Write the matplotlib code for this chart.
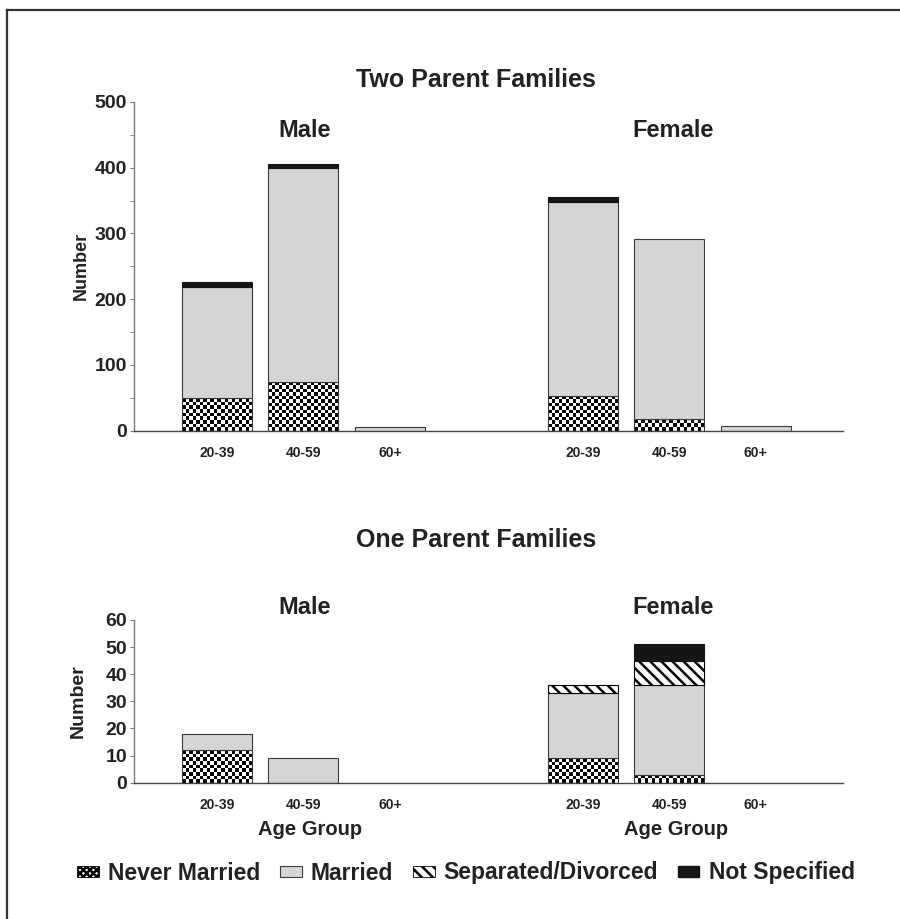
import numpy as np
import matplotlib
matplotlib.use('Agg')
import matplotlib.pyplot as plt
from matplotlib.patches import Patch
from matplotlib.lines import Line2D
import matplotlib.transforms as mtransforms

plt.rcParams['font.family'] = ['Liberation Sans', 'DejaVu Sans']
plt.rcParams['font.weight'] = 'bold'
plt.rcParams['hatch.linewidth'] = 1.8

ages = ['20-39', '40-59', '60+']
statuses = ['Never Married', 'Married', 'Separated/Divorced', 'Not Specified']

# Two parent families
two_male_never = [50, 74, 0]
two_male_married = [169, 325, 6]
two_male_sep = [0, 0, 0]
two_male_ns = [7, 7, 0]
two_female_never = [52, 18, 0]
two_female_married = [296, 274, 7]
two_female_sep = [0, 0, 0]
two_female_ns = [7, 0, 0]

# One parent families
one_male_never = [12, 0, 0]
one_male_married = [6, 9, 0]
one_male_sep = [0, 0, 0]
one_male_ns = [0, 0, 0]
one_female_never = [9, 3, 0]
one_female_married = [24, 33, 0]
one_female_sep = [3, 9, 0]
one_female_ns = [0, 6, 0]

TXT = '#222222'
GRAY = '#d4d5d7'
EDGE = '#3a3a3a'

W, H = 900, 919
fig = plt.figure(figsize=(W / 100, H / 100), dpi=100)

male_x = np.arange(3)
female_x = np.arange(3) + 4.23
xlim = (-0.96, 7.24)
bw = 0.81


def checker(ax, bar, cell=3.5):
    x0, y0 = bar.get_x(), bar.get_y()
    w, h = bar.get_width(), bar.get_height()
    p0 = ax.transData.transform((x0, y0))
    p1 = ax.transData.transform((x0 + w, y0 + h))
    nx = max(1, int(round((p1[0] - p0[0]) / cell)))
    ny = max(1, int(round((p1[1] - p0[1]) / cell)))
    arr = np.add.outer(np.arange(ny), np.arange(nx)) % 2
    im = ax.imshow(arr, cmap='gray', vmin=0, vmax=1, extent=(x0, x0 + w, y0, y0 + h),
                   aspect='auto', interpolation='nearest', zorder=1.5)
    im.set_clip_path(bar)


def stacked(ax, x, never, married, sep, ns):
    series = [np.array(never, float), np.array(married, float),
              np.array(sep, float), np.array(ns, float)]
    bottom = np.zeros(3)
    for i, vals in enumerate(series):
        m = vals > 0
        if m.any():
            if i == 0:
                bars = ax.bar(x[m], vals[m], bw, bottom=bottom[m], facecolor='none',
                              edgecolor=EDGE, linewidth=0.8, zorder=2)
                for b in bars:
                    checker(ax, b)
            elif i == 1:
                ax.bar(x[m], vals[m], bw, bottom=bottom[m], facecolor=GRAY,
                       edgecolor=EDGE, linewidth=0.8, zorder=2)
            elif i == 2:
                ax.bar(x[m], vals[m], bw, bottom=bottom[m], facecolor='white',
                       edgecolor='black', hatch='\\\\\\', linewidth=0.8, zorder=2)
            else:
                ax.bar(x[m], vals[m], bw, bottom=bottom[m], facecolor='#151515',
                       edgecolor='#151515', linewidth=0.8, zorder=2)
        bottom += vals


def panel(rect, ymax, major, minor, male, female, agelabel, ylsize, ylx):
    ax = fig.add_axes(rect)
    ax.set_xlim(*xlim)
    ax.set_ylim(0, ymax)
    for s in ['top', 'right']:
        ax.spines[s].set_visible(False)
    ax.spines['left'].set_color('#7a7a7a')
    ax.spines['bottom'].set_color('#444444')
    ax.spines['left'].set_linewidth(1.0)
    ax.spines['bottom'].set_linewidth(1.0)
    ax.set_yticks(np.arange(0, ymax + 1, major))
    if minor:
        ax.set_yticks(np.arange(0, ymax + 1, minor), minor=True)
    ax.tick_params(axis='y', which='both', direction='out', length=3, color='#7a7a7a',
                   labelsize=14, labelcolor=TXT, pad=2)
    for t in ax.get_yticklabels():
        t.set_fontweight('bold')
    ax.set_xticks(np.concatenate([male_x, female_x]))
    ax.set_xticklabels(ages + ages, fontsize=10, fontweight='bold', color=TXT)
    ax.tick_params(axis='x', length=0, pad=11)
    ax.set_ylabel('Number', fontsize=ylsize, fontweight='bold', color=TXT)
    ax.yaxis.set_label_coords(ylx, 0.5)
    stacked(ax, male_x, *male)
    stacked(ax, female_x, *female)
    ax.set_xlim(*xlim)
    ax.set_ylim(0, ymax)
    if agelabel:
        tr = mtransforms.blended_transform_factory(ax.transData, ax.transAxes)
        for cx in [male_x[1], female_x[1]]:
            ax.text(cx + 0.08, -0.29, 'Age Group', transform=tr, ha='center', va='center',
                    fontsize=14.5, fontweight='bold', color=TXT)
    return ax


def fx(px):
    return px / W


def fy(py):
    return 1 - py / H


top = panel([fx(134), fy(430.5), fx(843) - fx(134), fy(102) - fy(430.5)], 500, 100, 50,
            (two_male_never, two_male_married, two_male_sep, two_male_ns),
            (two_female_never, two_female_married, two_female_sep, two_female_ns),
            False, 13, -0.062)
bot = panel([fx(134), fy(782.7), fx(843) - fx(134), fy(620) - fy(782.7)], 60, 10, None,
            (one_male_never, one_male_married, one_male_sep, one_male_ns),
            (one_female_never, one_female_married, one_female_sep, one_female_ns),
            True, 14, -0.067)

fig.text(fx(476), fy(80), 'Two Parent Families', ha='center', va='center',
         fontsize=18, fontweight='bold', color=TXT)
fig.text(fx(476), fy(540), 'One Parent Families', ha='center', va='center',
         fontsize=18, fontweight='bold', color=TXT)
for y in [130, 607]:
    fig.text(fx(305), fy(y), 'Male', ha='center', va='center', fontsize=17,
             fontweight='bold', color=TXT)
    fig.text(fx(673), fy(y), 'Female', ha='center', va='center', fontsize=17,
             fontweight='bold', color=TXT)

handles = [Patch(facecolor='white', edgecolor='black', hatch='xxxxx', linewidth=0.6),
           Patch(facecolor=GRAY, edgecolor=EDGE, linewidth=0.8),
           Patch(facecolor='white', edgecolor='black', hatch='\\\\\\', linewidth=0.6),
           Patch(facecolor='#151515', edgecolor='#151515')]
fig.legend(handles, statuses, loc='center', bbox_to_anchor=(fx(466), fy(873)), ncol=4,
           frameon=False, handlelength=0.95, handleheight=0.4, handletextpad=0.4,
           columnspacing=0.85, prop={'size': 16.5, 'weight': 'bold'}, labelcolor=TXT)

# partial frame along top and left edges
fig.add_artist(Line2D([fx(7), 1], [fy(10), fy(10)], color='#333333', linewidth=1.6))
fig.add_artist(Line2D([fx(7), fx(7)], [0, fy(10)], color='#333333', linewidth=1.6))

fig.savefig('out.png', dpi=100)
